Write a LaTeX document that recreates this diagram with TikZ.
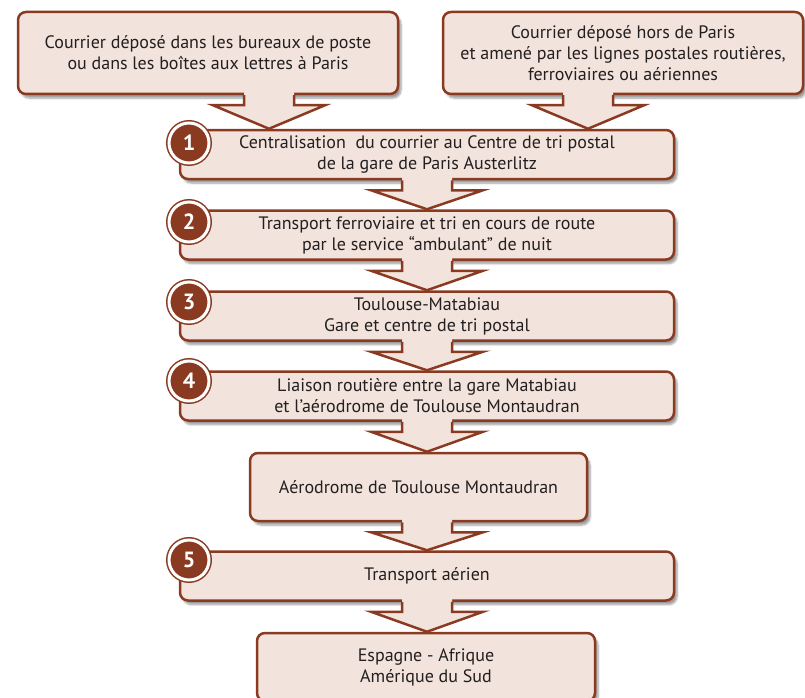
\documentclass[tikz,border=0pt]{standalone}
\usepackage{fontspec}
\setmainfont{PT Sans}
\usetikzlibrary{calc,shadows.blur}
\definecolor{brun}{RGB}{139,58,34}
\definecolor{fond}{RGB}{242,228,220}
\definecolor{encre}{RGB}{35,31,32}
\tikzset{
  etape/.style={draw=brun, fill=fond, line width=2.5pt, rounded corners=8pt,
    align=center, text=encre, font=\fontsize{18}{21}\selectfont, inner sep=0pt,
    blur shadow={shadow xshift=3pt, shadow yshift=-4pt, shadow blur steps=6}},
  trait/.style={draw=brun, line width=2.5pt},
  pastille/.style={circle, fill=brun, draw=brun, line width=1.5pt, double=white,
    double distance=3pt, minimum size=40pt, inner sep=0pt, text=white,
    font=\bfseries\fontsize{22}{22}\selectfont}
}
% arrow: #1 = base on the upper box, #2 = lower box
\newcommand\fleche[2]{%
  \fill[fond] ($(#1)+(-25,4)$) -- ($(#1)+(-25,-10)$) -- ($(#1)+(-56,-10)$) -- (#2.north -| #1)
    -- ($(#1)+(56,-10)$) -- ($(#1)+(25,-10)$) -- ($(#1)+(25,4)$) -- cycle;
  \draw[trait] ($(#1)+(-25,0)$) -- ($(#1)+(-25,-10)$) -- ($(#1)+(-56,-10)$) -- (#2.north -| #1)
    -- ($(#1)+(56,-10)$) -- ($(#1)+(25,-10)$) -- ($(#1)+(25,0)$);
}

\begin{document}
\begin{tikzpicture}[x=1pt, y=1pt]
  \useasboundingbox (0,0) rectangle (805,-698);
  %%%%% START %%%%%
  \node[etape, minimum width=380, minimum height=82] (paris) at (208,-53)
    {Courrier déposé dans les bureaux de poste\\ou dans les boîtes aux lettres à Paris};
  \node[etape, minimum width=360, minimum height=82] (province) at (623,-53)
    {Courrier déposé hors de Paris\\et amené par les lignes postales routières,\\ferroviaires ou aériennes};

  \node[etape, minimum width=494, minimum height=49] (centre) at (427,-154.5)
    {Centralisation\ \ du courrier au Centre de tri postal\\de la gare de Paris Austerlitz};
  \node[etape, minimum width=494, minimum height=49] (ambulant) at (427,-235)
    {Transport ferroviaire et tri en cours de route\\par le service “ambulant” de nuit};
  \node[etape, minimum width=494, minimum height=49] (matabiau) at (427,-316)
    {Toulouse-Matabiau\\Gare et centre de tri postal};
  \node[etape, minimum width=494, minimum height=49] (liaison) at (427,-396)
    {Liaison routière entre la gare Matabiau\\et l’aérodrome de Toulouse Montaudran};
  \node[etape, minimum width=337, minimum height=68] (aerodrome) at (418.5,-487)
    {Aérodrome de Toulouse Montaudran};
  \node[etape, minimum width=494, minimum height=49] (aerien) at (427,-576)
    {Transport aérien};
  \node[etape, minimum width=338, minimum height=68] (destination) at (426,-667)
    {Espagne - Afrique\\Amérique du Sud};

  % arrows
  \coordinate (bParis) at ($(paris.south)+(61,0)$);
  \coordinate (bProvince) at ($(province.south)+(-35,0)$);
  \coordinate (bAero) at (aerodrome.south -| aerien.north);
  \fleche{bParis}{centre}
  \fleche{bProvince}{centre}
  \fleche{centre.south}{ambulant}
  \fleche{ambulant.south}{matabiau}
  \fleche{matabiau.south}{liaison}
  \fleche{liaison.south}{aerodrome}
  \fleche{bAero}{aerien}
  \fleche{aerien.south}{destination}

  % numbers
  \node[pastille] (n1) at (189,-143) {1};
  \node[pastille] (n2) at (189,-222) {2};
  \node[pastille] (n3) at (189,-302) {3};
  \node[pastille] (n4) at (189,-381) {4};
  \node[pastille] (n5) at (189,-560) {5};
  %%%%% END %%%%%
\end{tikzpicture}
\end{document}
